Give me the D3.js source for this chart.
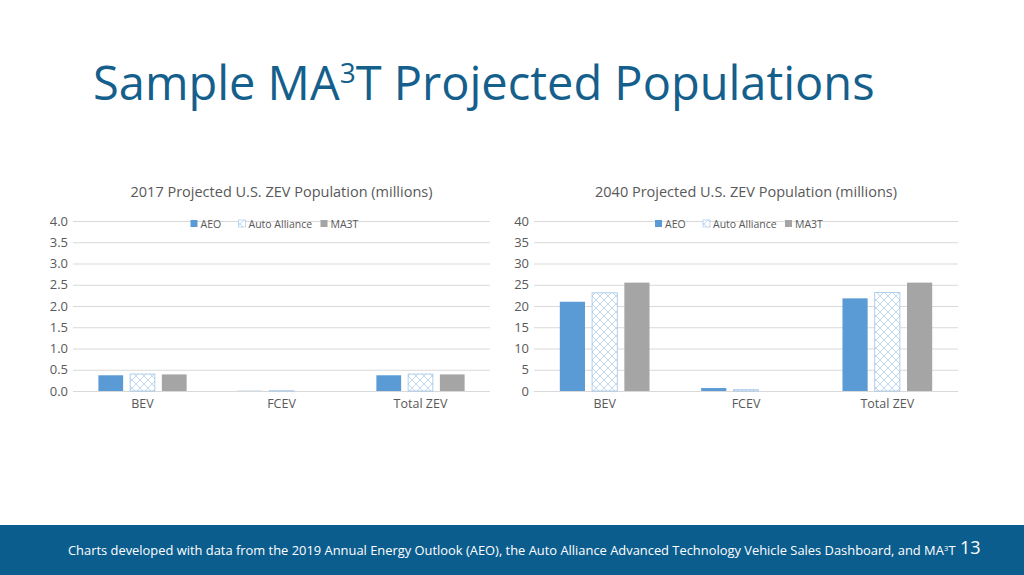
<!DOCTYPE html>
<html><head><meta charset="utf-8">
<script src="https://cdn.jsdelivr.net/npm/d3@7"></script>
<style>body{margin:0;background:#fff;font-family:"Open Sans","Noto Sans",sans-serif}</style>
</head><body>
<svg id="s" width="1024" height="575"></svg>
<script>
const categories = ['BEV', 'FCEV', 'Total ZEV'];
const seriesNames = ['AEO', 'Auto Alliance', 'MA3T'];
const values2017 = [[0.37, 0.40, 0.39], [0.005, 0.006, 0], [0.37, 0.40, 0.39]];
const values2040 = [[21.0, 23.1, 25.5], [0.7, 0.3, 0], [21.8, 23.2, 25.5]];
const ticks2017 = [0, 0.5, 1.0, 1.5, 2.0, 2.5, 3.0, 3.5, 4.0];
const ticks2040 = [0, 5, 10, 15, 20, 25, 30, 35, 40];

const svg = d3.select('#s');
const defs = svg.append('defs');
const pat = defs.append('pattern').attr('id', 'hatch').attr('patternUnits', 'userSpaceOnUse')
  .attr('width', 8).attr('height', 8);
pat.append('rect').attr('width', 8).attr('height', 8).attr('fill', '#fff');
pat.append('path').attr('d', 'M0,0L8,8M8,0L0,8').attr('stroke', '#a9c9e8').attr('stroke-width', 0.7);

svg.append('text').attr('x', 93).attr('y', 100).attr('fill', '#155f8c').attr('font-size', 47)
  .html('Sample MA<tspan dy="-17" font-size="28">3</tspan><tspan dy="17">T Projected Populations</tspan>');

svg.append('rect').attr('x', 0).attr('y', 525).attr('width', 1024).attr('height', 50).attr('fill', '#0b5d8e');
svg.append('text').attr('x', 68).attr('y', 555).attr('fill', '#fff').attr('font-size', 12.9)
  .html('Charts developed with data from the 2019 Annual Energy Outlook (AEO), the Auto Alliance Advanced Technology Vehicle Sales Dashboard, and MA<tspan dy="-4" font-size="8">3</tspan><tspan dy="4">T</tspan>');
svg.append('text').attr('x', 960).attr('y', 554).attr('fill', '#fff').attr('font-size', 18).text('13');

function chart(x0, x1, title, vals, ticks, fmt) {
  const y = d3.scaleLinear().domain([0, ticks[ticks.length - 1]]).range([391, 221]);
  const x = d3.scaleBand().domain(categories).range([x0, x1]);
  const xs = d3.scaleBand().domain(seriesNames).range([0, x.bandwidth()]).paddingInner(0.22).paddingOuter(0.8);
  const g = svg.append('g');
  g.append('text').attr('x', (x0 + x1) / 2).attr('y', 197).attr('text-anchor', 'middle')
    .attr('font-size', 14.5).attr('fill', '#595959').text(title);
  const ax = g.append('g').attr('transform', `translate(${x0},0)`)
    .call(d3.axisLeft(y).tickValues(ticks).tickFormat(fmt).tickSize(-(x1 - x0)));
  ax.select('.domain').remove();
  ax.selectAll('.tick line').attr('stroke', '#d9d9d9');
  ax.selectAll('.tick text').attr('x', -5).attr('font-size', 13).attr('fill', '#595959').attr('font-family', 'Open Sans');
  const colors = ['#5b9bd5', 'url(#hatch)', '#a5a5a5'];
  categories.forEach((c, i) => {
    g.selectAll(null).data(vals[i]).join('rect')
      .attr('x', (d, j) => x(c) + xs(seriesNames[j]))
      .attr('width', xs.bandwidth())
      .attr('y', d => y(d)).attr('height', d => y(0) - y(d))
      .attr('fill', (d, j) => colors[j])
      .attr('stroke', (d, j) => j === 1 && d > 0 ? '#9dc3e6' : 'none').attr('stroke-width', 0.8);
  });
  g.append('g').selectAll('text').data(categories).join('text')
    .attr('x', d => x(d) + x.bandwidth() / 2).attr('y', 408).attr('text-anchor', 'middle')
    .attr('font-size', 12.5).attr('fill', '#595959').text(d => d);
  // legend
  const lx = (x0 + x1) / 2 - 91;
  const offs = [0, 48, 130];
  seriesNames.forEach((s, j) => {
    g.append('rect').attr('x', lx + offs[j]).attr('y', 220).attr('width', 7).attr('height', 7)
      .attr('fill', colors[j]).attr('stroke', j === 1 ? '#9dc3e6' : 'none').attr('stroke-width', 0.6);
    g.append('text').attr('x', lx + offs[j] + 10).attr('y', 227.5).attr('font-size', 10.5)
      .attr('fill', '#595959').text(s);
  });
}
chart(73, 490, '2017 Projected U.S. ZEV Population (millions)', values2017, ticks2017, d3.format('.1f'));
chart(534, 958, '2040 Projected U.S. ZEV Population (millions)', values2040, ticks2040, d3.format('d'));
</script>
</body></html>
